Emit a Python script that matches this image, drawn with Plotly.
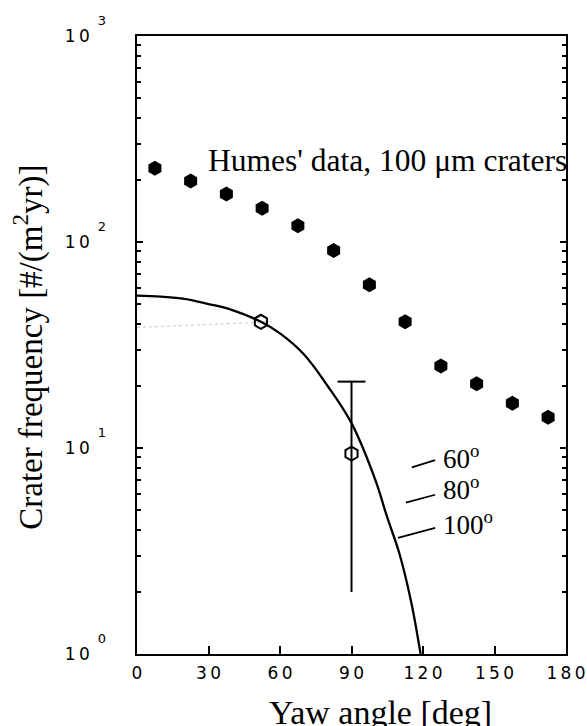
import plotly.graph_objects as go

# ---- data ----
humes_yaw = [7.5, 22.5, 37.5, 52.5, 67.5, 82.5, 97.5, 112.5, 127.5, 142.5, 157.5, 172.5]
humes_freq = [228, 198, 171, 146, 120, 91, 62, 41, 25, 20.5, 16.5, 14.1]

model_yaw = [0, 10, 20, 30, 40, 52, 60, 70, 80, 90, 100, 105, 110, 115, 119]
model_freq = [54.9, 54.3, 53.0, 50.0, 46.7, 41.0, 36.0, 28.5, 20.0, 13.2, 7.0, 4.6, 3.1, 1.8, 1.0]

open_yaw = [52, 90]
open_freq = [41, 9.4]

errbar_yaw = [90, 90]
errbar_freq = [2.0, 21.0]

faint_yaw = [0, 57]
faint_freq = [38.5, 41.0]

angle_labels = ["60<sup>o</sup>", "80<sup>o</sup>", "100<sup>o</sup>"]
angle_seg_yaw = [[115.3, 125.1], [112.8, 125.1], [109.5, 125.1]]
angle_seg_freq = [[8.06, 8.74], [5.43, 5.93], [3.66, 4.10]]
angle_label_ypaper = [0.319, 0.268, 0.2115]

TS = "\u2009"  # thin space used between digits of the plotter-style tick font
x_tickvals = [0, 30, 60, 90, 120, 150, 180]
x_ticktext = ["0", "3" + TS + "0", "6" + TS + "0", "9" + TS + "0",
              "1" + TS + "2" + TS + "0", "1" + TS + "5" + TS + "0", "1" + TS + "8" + TS + "0"]
y_tickvals = [1, 10, 100, 1000]
y_ticktext = ["1" + TS + "0"] * 4
y_exptext = ["0", "1", "2", "3"]

SERIF = "Liberation Serif, Times New Roman, serif"
TICKF = "DejaVu Sans, sans-serif"

fig = go.Figure()

fig.add_trace(go.Scatter(x=faint_yaw, y=faint_freq, mode="lines",
                         line=dict(color="#c8c8c8", width=1, dash="dot"),
                         hoverinfo="skip", showlegend=False))

fig.add_trace(go.Scatter(x=model_yaw, y=model_freq, mode="lines",
                         line=dict(color="black", width=2.3, shape="spline"),
                         showlegend=False))

fig.add_trace(go.Scatter(x=humes_yaw, y=humes_freq, mode="markers",
                         marker=dict(symbol="hexagon", size=15, color="black"),
                         showlegend=False))

# error bar (vertical bar with a cap on top only)
fig.add_trace(go.Scatter(x=errbar_yaw, y=errbar_freq, mode="lines",
                         line=dict(color="black", width=2),
                         yaxis="y2", showlegend=False))
fig.add_trace(go.Scatter(x=[errbar_yaw[1]], y=[errbar_freq[1]], mode="markers",
                         marker=dict(symbol="line-ew", size=20,
                                     line=dict(color="black", width=2)),
                         showlegend=False))

fig.add_trace(go.Scatter(x=open_yaw, y=open_freq, mode="markers",
                         marker=dict(symbol="hexagon-open", size=14, color="black",
                                     line=dict(width=2, color="black")),
                         showlegend=False))

for xs, ys in zip(angle_seg_yaw, angle_seg_freq):
    fig.add_trace(go.Scatter(x=xs, y=ys, mode="lines",
                             line=dict(color="black", width=1.8),
                             showlegend=False))

for lab, yp in zip(angle_labels, angle_label_ypaper):
    fig.add_annotation(text=lab, xref="paper", yref="paper", x=0.708, y=yp,
                       xanchor="left", yanchor="middle", showarrow=False,
                       font=dict(family=SERIF, size=27, color="black"))

fig.add_annotation(text="Humes' data, 100 \u03bcm craters", xref="paper", yref="paper",
                   x=0.583, y=0.798, xanchor="center", yanchor="middle",
                   showarrow=False, font=dict(family=SERIF, size=31.5, color="black"))

fig.add_annotation(text="Yaw angle [deg]", xref="paper", yref="paper",
                   x=0.5676, y=-0.094, xanchor="center", yanchor="middle",
                   showarrow=False, font=dict(family=SERIF, size=34, color="black"))

fig.add_annotation(text="Crater frequency [#/(m<sup>2</sup>yr)]", xref="paper", yref="paper",
                   x=-0.252, y=0.497, xanchor="center", yanchor="middle", textangle=-90,
                   showarrow=False, font=dict(family=SERIF, size=33, color="black"))

fig.update_layout(
    width=587, height=726,
    margin=dict(l=137, r=21, t=36, b=72, autoexpand=False),
    paper_bgcolor="white", plot_bgcolor="white",
    showlegend=False,
    xaxis=dict(range=[0, 180], tickvals=x_tickvals, ticktext=x_ticktext,
               ticks="inside", ticklen=8, tickwidth=1.5, tickcolor="black",
               showline=True, linecolor="black", linewidth=1.6, mirror=True,
               showgrid=False, zeroline=False, automargin=False,
               tickfont=dict(family=TICKF, size=17, color="black"),
               ticklabelstandoff=3),
    yaxis=dict(type="log", range=[0, 3], tickvals=y_tickvals, ticktext=y_ticktext,
               ticks="inside", ticklen=6, tickwidth=1.5, tickcolor="black",
               minor=dict(ticks="inside", ticklen=4, tickcolor="black", dtick="D1",
                          showgrid=False),
               showline=True, linecolor="black", linewidth=1.6, mirror="ticks",
               showgrid=False, zeroline=False, automargin=False,
               tickfont=dict(family=TICKF, size=17, color="black"),
               ticklabelstandoff=42),
    yaxis2=dict(type="log", range=[0, 3], overlaying="y", side="left", anchor="x",
                tickvals=y_tickvals, ticktext=y_exptext, ticks="",
                showline=False, showgrid=False, zeroline=False, automargin=False,
                tickfont=dict(family=TICKF, size=13, color="black"),
                ticklabelstandoff=30, ticklabelshift=-16),
)

fig.write_html("out.html",
               config={"displayModeBar": False},
               post_script="document.body.style.margin='0';"
                           "document.body.style.overflow='hidden';")
